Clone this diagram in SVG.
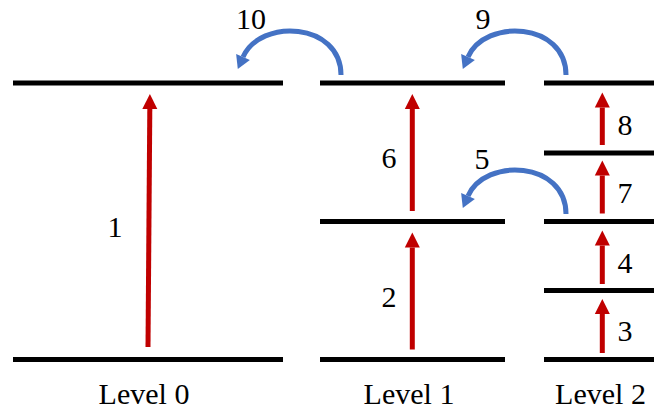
<svg xmlns="http://www.w3.org/2000/svg" width="654" height="410" viewBox="0 0 654 410">
<style>
.lvl{stroke:#000;stroke-width:5;fill:none}
.red{stroke:#C00000;stroke-width:5;fill:none;marker-end:url(#rh)}
.blue{stroke:#4472C4;stroke-width:5;fill:none;marker-end:url(#bh)}
.t{font-family:'Liberation Serif','DejaVu Serif',serif;font-size:30px;fill:#000;text-anchor:middle}
</style>
<defs>
<marker id="rh" markerUnits="userSpaceOnUse" markerWidth="16" markerHeight="16" refX="0" refY="7.5" orient="auto" overflow="visible">
<path d="M0,0 L15,7.5 L0,15 z" fill="#C00000"/>
</marker>
<marker id="bh" markerUnits="userSpaceOnUse" markerWidth="16" markerHeight="16" refX="0" refY="7.5" orient="auto" overflow="visible">
<path d="M0,0 L13,7.5 L0,15 z" fill="#4472C4"/>
</marker>
</defs>
<rect width="654" height="410" fill="#fff"/>
<g id="level0">
<line class="lvl" x1="13" y1="83" x2="283" y2="83"/>
<line class="lvl" x1="13" y1="359.5" x2="283" y2="359.5"/>
<text class="t" x="144" y="404" font-family="Liberation Serif, serif">Level 0</text>
</g>
<g id="level1">
<line class="lvl" x1="320" y1="83" x2="505" y2="83"/>
<line class="lvl" x1="320" y1="221.5" x2="505" y2="221.5"/>
<line class="lvl" x1="320" y1="359.5" x2="505" y2="359.5"/>
<text class="t" x="409" y="404">Level 1</text>
</g>
<g id="level2">
<line class="lvl" x1="544" y1="83" x2="654" y2="83"/>
<line class="lvl" x1="544" y1="153" x2="654" y2="153"/>
<line class="lvl" x1="544" y1="221.5" x2="654" y2="221.5"/>
<line class="lvl" x1="544" y1="290.5" x2="654" y2="290.5"/>
<line class="lvl" x1="544" y1="359.5" x2="654" y2="359.5"/>
<text class="t" x="600.5" y="404">Level 2</text>
</g>
<g id="connectors">
<line class="red" x1="148" y1="347" x2="149.8" y2="109"/>
<line class="red" x1="412.3" y1="349.5" x2="412.3" y2="247.5"/>
<line class="red" x1="412.3" y1="211" x2="412.3" y2="109"/>
<line class="red" x1="602.3" y1="353" x2="602.3" y2="314"/>
<line class="red" x1="602.3" y1="284" x2="602.3" y2="245.5"/>
<line class="red" x1="602.3" y1="213.5" x2="602.3" y2="175.5"/>
<line class="red" x1="602.3" y1="145" x2="602.3" y2="107.5"/>
<path class="blue" d="M341,75 C341,22 260,18 243,57"/>
<path class="blue" d="M566,75 C566,22 485,18 468,57"/>
<path class="blue" d="M566,214 C566,161 485,157 468,196"/>
</g>
<g id="labels">
<text class="t" x="115" y="237">1</text>
<text class="t" x="389" y="307">2</text>
<text class="t" x="625" y="341">3</text>
<text class="t" x="625" y="273">4</text>
<text class="t" x="482" y="169">5</text>
<text class="t" x="389" y="168">6</text>
<text class="t" x="625" y="203">7</text>
<text class="t" x="625" y="135">8</text>
<text class="t" x="483" y="29">9</text>
<text class="t" x="251" y="29">10</text>
</g>
</svg>
